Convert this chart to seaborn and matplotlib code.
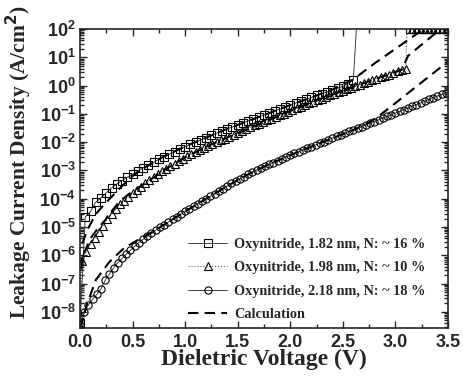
import numpy as np
import pandas as pd
import matplotlib
matplotlib.use("Agg")
import matplotlib.pyplot as plt
from matplotlib.ticker import (FixedLocator, MultipleLocator, NullFormatter,
                               FormatStrFormatter, LogFormatterSciNotation)
import seaborn as sns

# =============================
# Data (log10 of J in A/cm^2)
# =============================
v_sq = [0.00, 0.05, 0.10, 0.15, 0.20, 0.25, 0.30, 0.35, 0.40, 0.45, 0.50, 0.55,
        0.60, 0.65, 0.70, 0.75, 0.80, 0.85, 0.90, 0.95, 1.00, 1.05, 1.10, 1.15,
        1.20, 1.25, 1.30, 1.35, 1.40, 1.45, 1.50, 1.55, 1.60, 1.65, 1.70, 1.75,
        1.80, 1.85, 1.90, 1.95, 2.00, 2.05, 2.10, 2.15, 2.20, 2.25, 2.30, 2.35,
        2.40, 2.45, 2.50, 2.55, 2.60, 2.66, 3.14, 3.18, 3.22, 3.26, 3.30, 3.34,
        3.38, 3.42, 3.46, 3.50]
logj_sq = [-8.40, -4.64, -4.45, -4.12, -3.97, -3.79, -3.62, -3.48, -3.36, -3.24, -3.13, -3.02,
           -2.91, -2.81, -2.71, -2.61, -2.52, -2.43, -2.34, -2.25, -2.16, -2.08, -2.00, -1.92,
           -1.84, -1.76, -1.68, -1.61, -1.53, -1.46, -1.39, -1.32, -1.25, -1.18, -1.11, -1.04,
           -0.97, -0.90, -0.83, -0.76, -0.69, -0.62, -0.55, -0.49, -0.42, -0.35, -0.29, -0.22,
           -0.16, -0.09, -0.03, 0.06, 0.20, 4.00, 2.00, 2.00, 2.00, 2.00, 2.00, 2.00,
           2.00, 2.00, 2.00, 2.00]

v_tri = [0.00, 0.02, 0.06, 0.10, 0.14, 0.18, 0.22, 0.26, 0.30, 0.34, 0.38, 0.42, 0.46,
         0.50, 0.54, 0.58, 0.62, 0.66, 0.70, 0.74, 0.78, 0.82, 0.86, 0.90, 0.94,
         0.98, 1.02, 1.06, 1.10, 1.14, 1.18, 1.22, 1.26, 1.30, 1.34, 1.38, 1.42,
         1.46, 1.50, 1.54, 1.58, 1.62, 1.66, 1.70, 1.74, 1.78, 1.82, 1.86, 1.90,
         1.94, 1.98, 2.02, 2.06, 2.10, 2.14, 2.18, 2.22, 2.26, 2.30, 2.34, 2.38,
         2.42, 2.46, 2.50, 2.54, 2.58, 2.62, 2.66, 2.70, 2.74, 2.78, 2.82, 2.86,
         2.90, 2.94, 2.98, 3.02, 3.06, 3.10, 3.12, 3.16, 3.20, 3.24, 3.28, 3.32,
         3.36, 3.40, 3.44, 3.48]
logj_tri = [-8.50, -6.20, -5.88, -5.60, -5.40, -5.18, -4.95, -4.73, -4.53, -4.36, -4.20, -4.07, -3.94,
            -3.81, -3.68, -3.57, -3.46, -3.35, -3.24, -3.13, -3.03, -2.94, -2.85, -2.76, -2.67,
            -2.58, -2.50, -2.42, -2.35, -2.28, -2.21, -2.14, -2.08, -2.01, -1.94, -1.88, -1.82,
            -1.75, -1.68, -1.61, -1.55, -1.48, -1.41, -1.35, -1.29, -1.23, -1.17, -1.11, -1.05,
            -0.99, -0.93, -0.87, -0.81, -0.75, -0.69, -0.63, -0.57, -0.52, -0.46, -0.41, -0.35,
            -0.30, -0.24, -0.19, -0.13, -0.08, -0.03, 0.03, 0.08, 0.13, 0.19, 0.24, 0.29,
            0.34, 0.39, 0.44, 0.50, 0.55, 0.60, 4.00, 2.00, 2.00, 2.00, 2.00, 2.00,
            2.00, 2.00, 2.00, 2.00]

v_circ = [0.00, 0.04, 0.08, 0.12, 0.16, 0.20, 0.24, 0.28, 0.32, 0.36, 0.40, 0.44,
          0.48, 0.52, 0.56, 0.60, 0.64, 0.68, 0.72, 0.76, 0.80, 0.84, 0.88, 0.92,
          0.96, 1.00, 1.04, 1.08, 1.12, 1.16, 1.20, 1.24, 1.28, 1.32, 1.36, 1.40,
          1.44, 1.48, 1.52, 1.56, 1.60, 1.64, 1.68, 1.72, 1.76, 1.80, 1.84, 1.88,
          1.92, 1.96, 2.00, 2.04, 2.08, 2.12, 2.16, 2.20, 2.24, 2.28, 2.32, 2.36,
          2.40, 2.44, 2.48, 2.52, 2.56, 2.60, 2.64, 2.68, 2.72, 2.76, 2.80, 2.84,
          2.88, 2.92, 2.96, 3.00, 3.04, 3.08, 3.12, 3.16, 3.20, 3.24, 3.28, 3.32,
          3.36, 3.40, 3.44, 3.48]
logj_circ = [-8.45, -8.00, -7.76, -7.55, -7.38, -7.18, -6.88, -6.66, -6.44, -6.26, -6.11, -5.96,
             -5.82, -5.68, -5.55, -5.43, -5.32, -5.21, -5.11, -5.01, -4.92, -4.82, -4.72, -4.63,
             -4.54, -4.45, -4.36, -4.27, -4.18, -4.09, -4.00, -3.91, -3.82, -3.73, -3.64, -3.55,
             -3.46, -3.38, -3.30, -3.22, -3.14, -3.06, -2.99, -2.92, -2.85, -2.78, -2.72, -2.65,
             -2.59, -2.52, -2.46, -2.40, -2.34, -2.28, -2.22, -2.16, -2.10, -2.04, -1.98, -1.92,
             -1.86, -1.80, -1.74, -1.68, -1.62, -1.57, -1.51, -1.45, -1.39, -1.33, -1.27, -1.21,
             -1.15, -1.09, -1.03, -0.97, -0.91, -0.85, -0.79, -0.73, -0.67, -0.61, -0.55, -0.49,
             -0.43, -0.37, -0.31, -0.25]

# calculated curves (dashed)
v_calc_sq = [0.02, 0.07, 0.12, 0.16, 0.21, 0.27, 0.33, 0.40, 0.50, 0.60, 0.80, 1.00,
             1.20, 1.40, 1.60, 1.80, 2.00, 2.20, 2.40, 2.60, 2.80, 3.00, 3.20, 3.30]
logj_calc_sq = [-5.60, -5.10, -4.75, -4.50, -4.29, -4.05, -3.82, -3.55, -3.20, -2.93, -2.50, -2.15,
                -1.84, -1.53, -1.25, -0.97, -0.69, -0.42, -0.14, 0.22, 0.78, 1.30, 1.82, 2.08]

v_calc_tri = [0.01, 0.03, 0.10, 0.17, 0.24, 0.31, 0.38, 0.46, 0.54, 0.62, 0.80, 1.00,
              1.20, 1.40, 1.60, 1.80, 2.00, 2.20, 2.40, 2.60, 2.80, 3.00, 3.06, 3.12, 3.43]
logj_calc_tri = [-6.50, -6.00, -5.40, -5.05, -4.75, -4.40, -4.08, -3.85, -3.64, -3.46, -2.99, -2.54,
                 -2.16, -1.84, -1.53, -1.22, -0.90, -0.60, -0.32, -0.04, 0.22, 0.48, 0.56, 1.05, 2.00]

v_calc_circ = [0.00, 0.06, 0.15, 0.28, 0.42, 0.55, 0.70, 0.80, 1.00, 1.20, 1.40, 1.60,
               1.80, 2.00, 2.20, 2.40, 2.60, 2.75, 2.83, 3.00, 3.20, 3.50]
logj_calc_circ = [-8.60, -7.80, -6.87, -6.23, -5.74, -5.46, -5.15, -4.92, -4.45, -4.00, -3.55, -3.14,
                  -2.78, -2.46, -2.16, -1.86, -1.57, -1.30, -1.11, -0.62, -0.03, 0.85]

labels = ["Oxynitride, 1.82 nm, N: ~ 16 %",
          "Oxynitride, 1.98 nm, N: ~ 10 %",
          "Oxynitride, 2.18 nm, N: ~ 18 %",
          "Calculation"]

# y decades shown on the axis
y_decades = [-8, -7, -6, -5, -4, -3, -2, -1, 0, 1, 2]

# =============================
# Style
# =============================
sns.set_style("ticks")
plt.rcParams['font.family'] = ['Liberation Sans', 'DejaVu Sans']
plt.rcParams['font.weight'] = 'bold'
plt.rcParams['axes.linewidth'] = 1.2

fig = plt.figure(figsize=(4.64, 3.77), dpi=100)
ax = fig.add_axes([0.1724, 0.130, 0.7931, 0.7931])

mk = dict(markerfacecolor='none', markeredgecolor='black', markeredgewidth=0.8)

sns.lineplot(x=v_sq, y=10.0 ** np.array(logj_sq), ax=ax, color='0.25', lw=0.7,
             marker='s', markersize=5.4, sort=False, estimator=None, **mk)
sns.lineplot(x=v_tri, y=10.0 ** np.array(logj_tri), ax=ax, color='0.35', lw=0.8,
             linestyle=':', marker='^', markersize=5.4, sort=False, estimator=None, **mk)
sns.lineplot(x=v_circ, y=10.0 ** np.array(logj_circ), ax=ax, color='0.25', lw=0.7,
             marker='o', markersize=5.2, sort=False, estimator=None, **mk)

calc_kw = dict(color='black', lw=1.5, dashes=(5, 3), sort=False, estimator=None)
for vv, jj in [(v_calc_sq, logj_calc_sq), (v_calc_tri, logj_calc_tri),
               (v_calc_circ, logj_calc_circ)]:
    sns.lineplot(x=vv, y=10.0 ** np.array(jj), ax=ax, **calc_kw)

ax.set_yscale('log')
ax.set_xlim(0, 3.5)
ax.set_ylim(2.7e-9, 100)
ax.xaxis.set_major_locator(MultipleLocator(0.5))
ax.xaxis.set_minor_locator(MultipleLocator(0.25))
ax.xaxis.set_major_formatter(FormatStrFormatter("%.1f"))

# only decades inside the view, so no hidden labels outside the axes
major_y = [10.0 ** d for d in y_decades]
minor_y = [m * 10.0 ** d for d in [-9] + y_decades[:-1] for m in range(2, 10)]
minor_y = [t for t in minor_y if 2.7e-9 <= t <= 100]
ax.yaxis.set_major_locator(FixedLocator(major_y))
ax.yaxis.set_major_formatter(LogFormatterSciNotation())
ax.yaxis.set_minor_locator(FixedLocator(minor_y))
ax.yaxis.set_minor_formatter(NullFormatter())

ax.tick_params(which='both', direction='in', top=True, right=True, width=1.0,
               labelsize=13, pad=4)
ax.tick_params(axis='y', which='major', pad=3)
ax.tick_params(which='major', length=5)
ax.tick_params(which='minor', length=3)

ax.set_xlabel("Dieletric Voltage (V)", fontfamily='Liberation Serif',
              fontweight='bold', fontsize=17, labelpad=-1)
ax.set_ylabel("Leakage Current Density (A/cm$^\\mathbf{2}$)", fontfamily='Liberation Serif',
              fontweight='bold', fontsize=15.5)
ax.yaxis.set_label_coords(-0.125, 0.556)

lines = ax.get_lines()
leg = ax.legend([lines[0], lines[1], lines[2], lines[3]], labels,
                loc='lower left', bbox_to_anchor=(0.275, 0.0), frameon=False,
                handlelength=2.7, handletextpad=0.5, labelspacing=0.72, borderpad=0,
                prop=dict(family='Liberation Serif', weight='bold', size=10.3))

fig.savefig("out.png", dpi=100)
